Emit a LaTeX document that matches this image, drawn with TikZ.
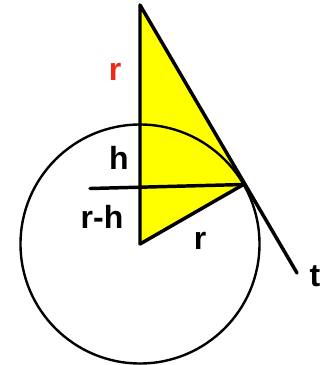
\documentclass[tikz,border=0pt]{standalone}
\usepackage{fontspec}
\setmainfont{Liberation Sans}
\definecolor{lblred}{RGB}{240,40,20}
\definecolor{fillyel}{RGB}{255,255,0}
\begin{document}
\begin{tikzpicture}[x=0.75pt,y=-0.75pt,
  lbl/.style={font=\fontsize{24}{28}\selectfont\bfseries, inner sep=0pt},
  thickline/.style={line width=2.6pt, line cap=round, line join=round},
  circline/.style={line width=1.8pt}]
\useasboundingbox (0,0) rectangle (324,365);
\coordinate (top) at (140,5);
\coordinate (tp) at (243.5,184.5);
\coordinate (ctr) at (140,244);
\coordinate (hl) at (90,188.5);
\coordinate (tend) at (297,273);
\fill[fillyel] (top) -- (tp) -- (ctr) -- cycle;
\draw[circline] (ctr) circle (119.5);
\draw[thickline] (ctr) -- (top) -- (tend);
\draw[thickline] (tp) -- (ctr);
\draw[thickline] (hl) -- (tp);
\node[lbl, text=lblred] (rtop) at (115,72) {r};
\node[lbl] (h) at (119,158) {h};
\node[lbl] (rh) at (102,217) {r-h};
\node[lbl] (r) at (200,241) {r};
\node[lbl] (t) at (315,276) {t};
\end{tikzpicture}
\end{document}
